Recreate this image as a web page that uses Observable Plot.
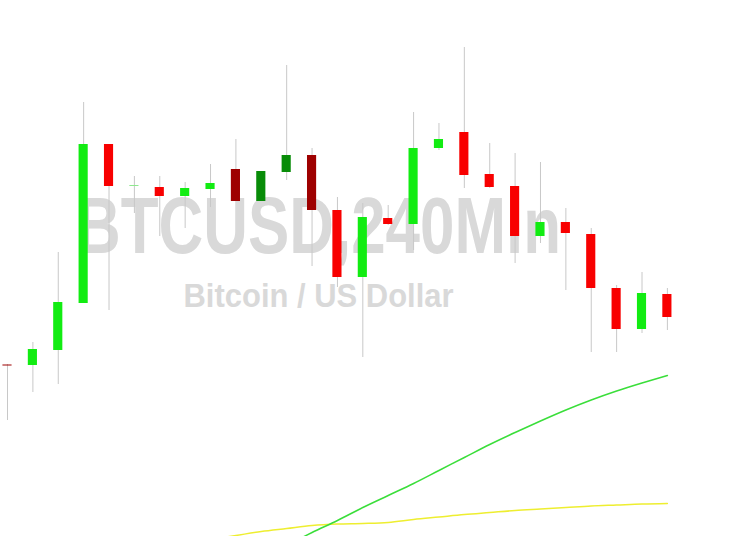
<!DOCTYPE html>
<html>
<head>
<meta charset="utf-8">
<script src="https://cdn.jsdelivr.net/npm/d3@7"></script>
<script src="https://cdn.jsdelivr.net/npm/@observablehq/plot@0.6"></script>
<style>
  html, body { margin: 0; padding: 0; background: #ffffff; }
  #chart { width: 750px; height: 536px; }
</style>
</head>
<body>
<div id="chart"></div>
<script>
// Candle data (arbitrary price units)
const open  = [171.5, 171, 186, 233, 392, 350, 349, 340, 347, 367, 335, 364, 381, 326, 259, 318, 312, 388, 404, 362, 350, 300, 314, 302, 248, 207, 242];
const close = [170.5, 187, 234, 392, 350, 351, 340, 348, 353, 335, 365, 381, 326, 259, 319, 312, 388, 397, 361, 349, 300, 314, 303, 248, 207, 243, 219];
const high  = [172, 194, 284, 434, 392, 360, 360, 354, 372, 397, 365, 471, 388, 339, 333, 331, 424, 413, 489, 393, 383, 374, 328, 308, 251, 264, 248];
const low   = [116, 144, 152, 233, 226, 323, 300, 308, 329, 335, 335, 356, 270, 249, 179, 311, 286, 386, 348, 348, 273, 293, 246, 184, 184, 203, 206];
const kind  = ["downDark","up","up","up","down","doji","down","up","up","downDark","upDark","upDark","downDark","down","up","down","up","up","down","down","down","up","down","down","down","up","down"];

// Moving averages (index, value)
const maFastIdx = [11, 12, 13, 14, 15, 16, 17, 18, 19, 20, 21, 22, 23, 24, 25, 26];
const maFastVal = [-9, 4, 16, 29, 41, 53, 66, 79, 92, 104, 115.5, 126.5, 136.5, 145.5, 153.5, 161];
const maSlowIdx = [8, 9, 10, 11, 12, 13, 14, 15, 16, 17, 18, 19, 20, 21, 22, 23, 24, 25, 26];
const maSlowVal = [-3, 1, 5, 8, 11, 12.5, 13, 14, 17, 19.5, 22, 24, 26, 27.5, 29, 30.5, 31.5, 32.5, 33];

const title = "BTCUSD,240Min";
const subtitle = "Bitcoin / US Dollar";

const kindDomain = ["up", "down", "upDark", "downDark", "doji"];
const kindRange  = ["#12ec12", "#f80000", "#088c08", "#9e0000", "#8fe88f"];

const candles = open.map((o, i) => ({
  i, open: o, close: close[i], high: high[i], low: low[i], kind: kind[i]
}));
const maFast = maFastIdx.map((i, k) => ({i, v: maFastVal[k]}));
const maSlow = maSlowIdx.map((i, k) => ({i, v: maSlowVal[k]}));

const half = 0.18;

const svg = Plot.plot({
  width: 750,
  height: 536,
  margin: 0,
  style: {background: "#ffffff", overflow: "hidden"},
  x: {domain: [-0.2758, 29.275], axis: null},
  y: {domain: [0, 536], axis: null},
  color: {domain: kindDomain, range: kindRange},
  marks: [
    Plot.text([title], {
      frameAnchor: "middle", dx: -57, dy: -41.6,
      fontSize: 80, fontWeight: "bold", fontFamily: "Liberation Sans, Arial, sans-serif",
      fill: "#d9d9d9"
    }),
    Plot.text([subtitle], {
      frameAnchor: "middle", dx: -57, dy: 28.4,
      fontSize: 33, fontWeight: "bold", fontFamily: "Liberation Sans, Arial, sans-serif",
      fill: "#d9d9d9"
    }),
    Plot.ruleX(candles, {x: "i", y1: "low", y2: "high", stroke: "#c8c8c8", strokeWidth: 1}),
    Plot.rect(candles, {
      x1: d => d.i - half, x2: d => d.i + half,
      y1: "open", y2: "close",
      fill: "kind"
    }),
    Plot.line(maSlow, {x: "i", y: "v", stroke: "#eeee30", strokeWidth: 1.5, curve: "monotone-x", clip: true}),
    Plot.line(maFast, {x: "i", y: "v", stroke: "#3ade3a", strokeWidth: 1.5, curve: "monotone-x", clip: true})
  ]
});

d3.select(svg).selectAll("text").each(function() {
  const t = this.textContent;
  if (t === title) {
    d3.select(this).attr("textLength", 485).attr("lengthAdjust", "spacingAndGlyphs");
  } else if (t === subtitle) {
    d3.select(this).attr("textLength", 270).attr("lengthAdjust", "spacingAndGlyphs");
  }
});

document.getElementById("chart").appendChild(svg);
</script>
</body>
</html>
